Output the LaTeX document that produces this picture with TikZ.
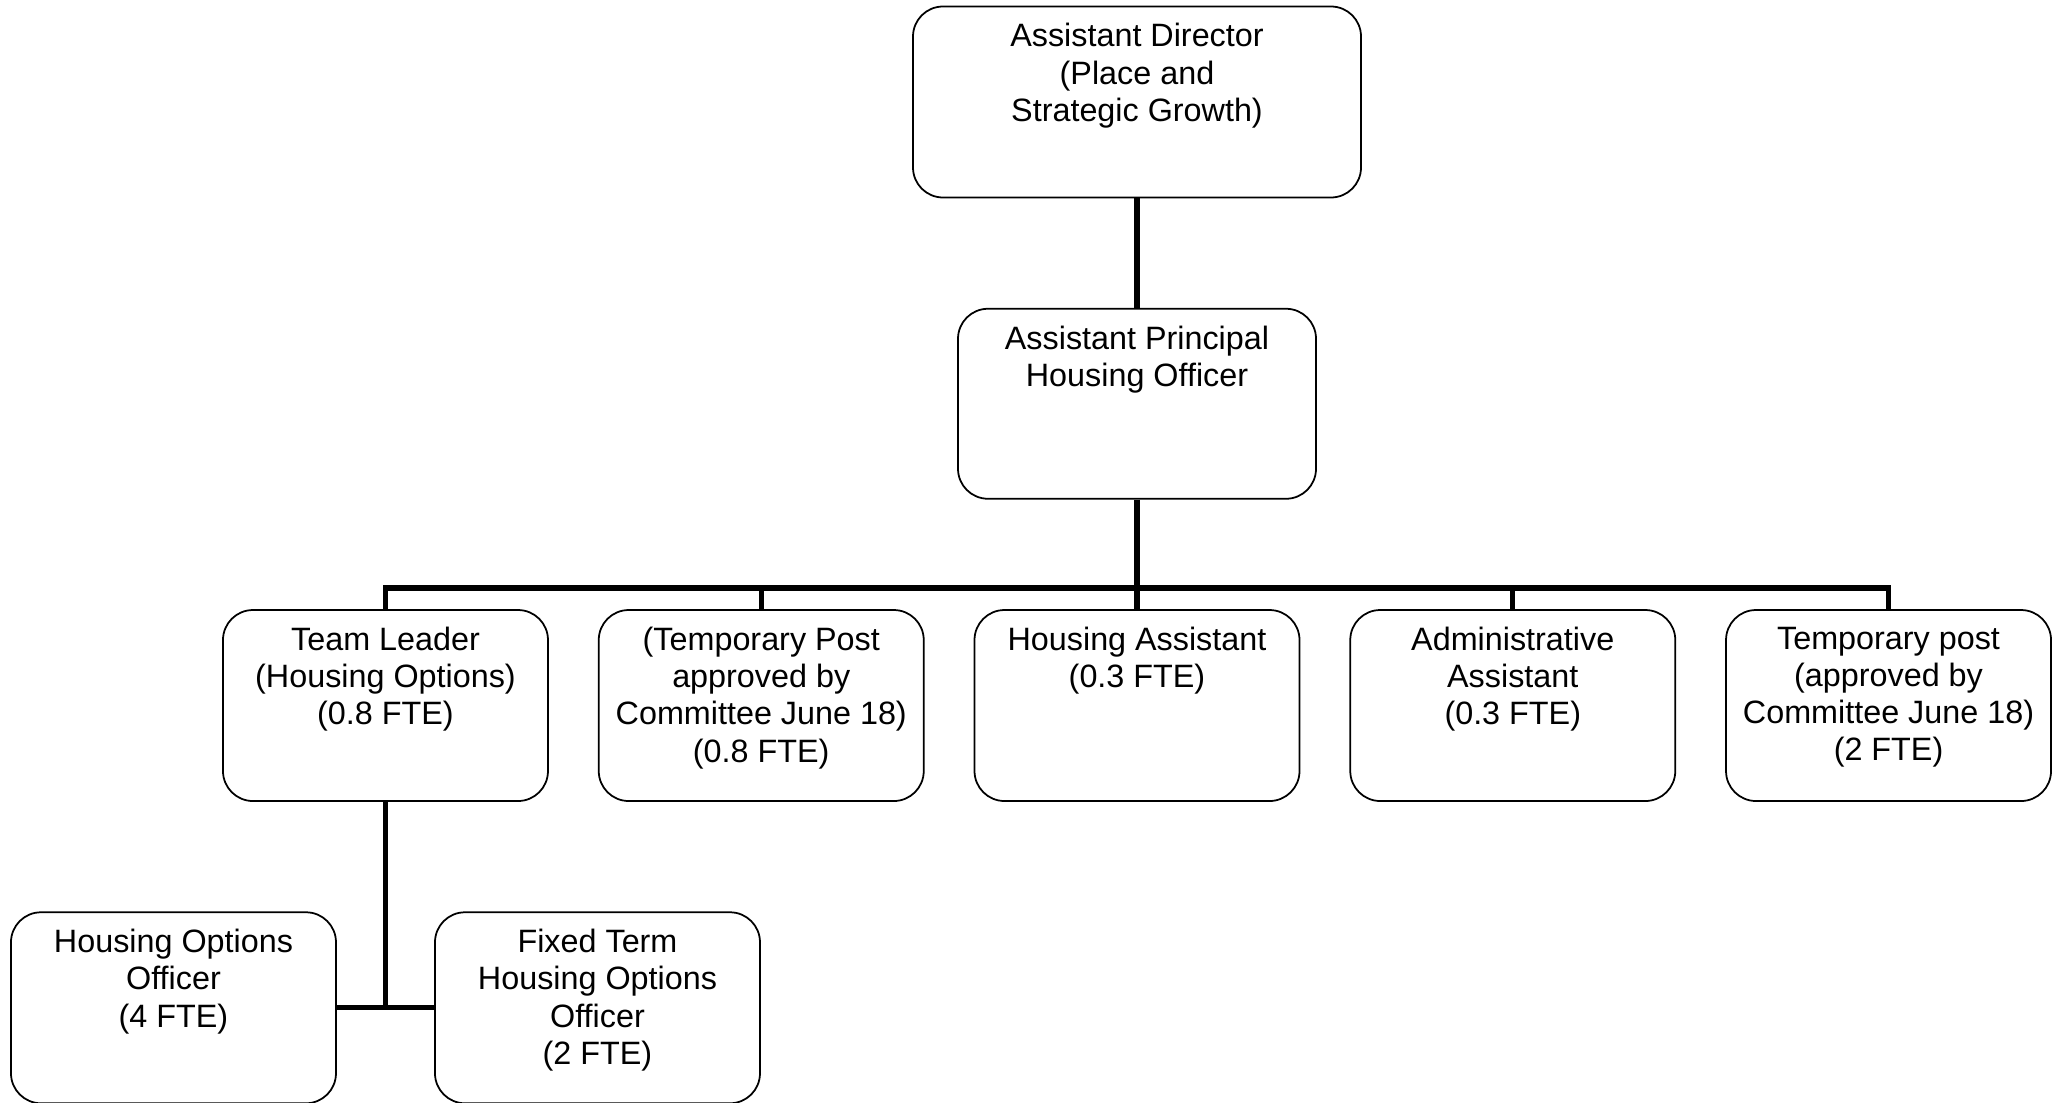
\documentclass[tikz,border=0pt]{standalone}
\usepackage{fontspec}
\setmainfont{Liberation Sans}
\usetikzlibrary{positioning}
\tikzset{%
  post/.style={draw,line width=.5pt,rounded corners=3mm,minimum width=32.5mm,minimum height=19.1mm,inner sep=0pt},
  lbl/.style={align=center,inner sep=0pt,font=\fontsize{9.2}{10.6}\selectfont},
  link/.style={line width=1.5pt}
}

\begin{document}
\begin{tikzpicture}
  \useasboundingbox (0,0) rectangle (20.58,-11.03);

  \node [post,minimum width=44.8mm] (ad) at (11.37,-1.02) {};
  \node [post,minimum width=35.8mm,minimum height=19mm,below=10.95mm of ad] (apho) {};
  \node [post,below=10.95mm of apho] (ha) {};
  \node [post,left=4.9mm of ha] (tmp) {};
  \node [post,left=4.9mm of tmp] (tl) {};
  \node [post,right=4.9mm of ha] (aa) {};
  \node [post,right=4.9mm of aa] (tp) {};
  \node [post,below=10.95mm of tl,xshift=-21.2mm] (hoo) {};
  \node [post,below=10.95mm of tl,xshift=21.2mm] (fthoo) {};

  \node [lbl,below=1.7mm of ad.north] (adtxt) {Assistant Director\\(Place and\\Strategic Growth)};
  \node [lbl,below=1.7mm of apho.north] (aphotxt) {Assistant Principal\\Housing Officer};
  \node [lbl,below=1.7mm of tl.north] (tltxt) {Team Leader\\(Housing Options)\\(0.8 FTE)};
  \node [lbl,below=1.7mm of tmp.north] (tmptxt) {(Temporary Post\\approved by\\Committee June 18)\\(0.8 FTE)};
  \node [lbl,below=1.7mm of ha.north] (hatxt) {Housing Assistant\\(0.3 FTE)};
  \node [lbl,below=1.7mm of aa.north] (aatxt) {Administrative\\Assistant\\(0.3 FTE)};
  \node [lbl,below=1.7mm of tp.north] (tptxt) {Temporary post\\(approved by\\Committee June 18)\\(2 FTE)};
  \node [lbl,below=1.7mm of hoo.north] (hootxt) {Housing Options\\Officer\\(4 FTE)};
  \node [lbl,below=1.7mm of fthoo.north] (fthootxt) {Fixed Term\\Housing Options\\Officer\\(2 FTE)};

  \coordinate (bus) at (0,-5.88);
  \draw [link] (ad.south) -- (apho.north);
  \draw [link] (apho.south) -- (apho.south |- bus);
  \draw [link,line cap=rect] (tl.north |- bus) -- (tp.north |- bus);
  \foreach \n in {tl,tmp,ha,aa,tp}
    \draw [link] (\n.north |- bus) -- (\n.north);
  \draw [link] (tl.south) -- (tl.south |- hoo.east);
  \draw [link] (hoo.east) -- (fthoo.west);
\end{tikzpicture}
\end{document}
